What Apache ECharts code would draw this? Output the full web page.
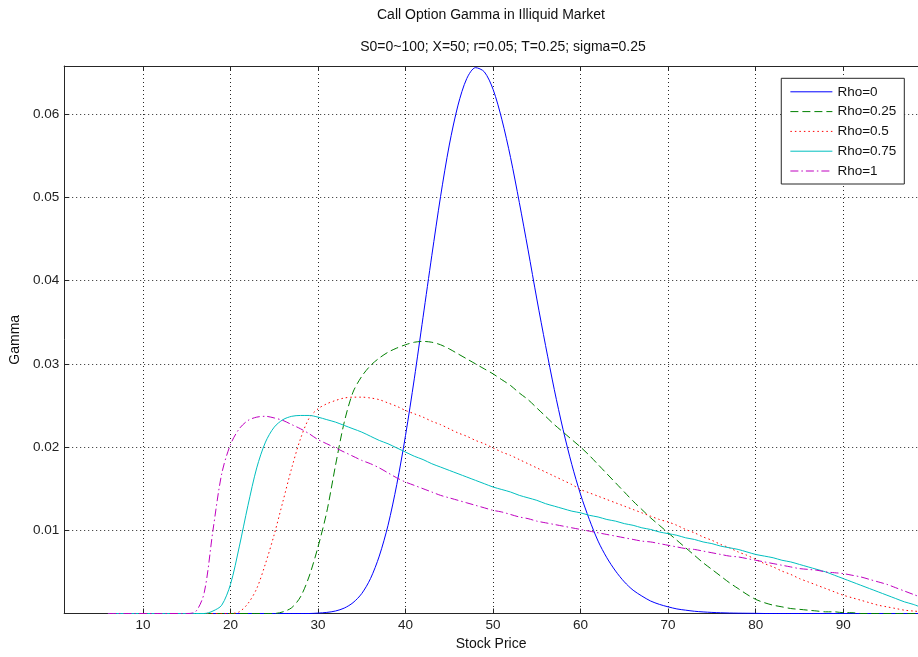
<!DOCTYPE html>
<html>
<head>
<meta charset="utf-8">
<script src="https://cdn.jsdelivr.net/npm/echarts@6/dist/echarts.min.js"></script>
<style>
html,body{margin:0;padding:0;background:#fff;}
#chart{width:918px;height:657px;}
</style>
</head>
<body>
<div id="chart"></div>
<script>
// Stock price grid (x values)
const stockPrice = [6,7,8,9,
  10,11,12,13,14,15,16,17,18,19,
  20,21,22,23,24,25,26,27,28,29,
  30,31,32,33,34,35,36,37,38,39,
  40,41,42,43,44,45,46,47,48,49,
  50,51,52,53,54,55,56,57,58,59,
  60,61,62,63,64,65,66,67,68,69,
  70,71,72,73,74,75,76,77,78,79,
  80,81,82,83,84,85,86,87,88,89,
  90,91,92,93,94,95,96,97,98,99];

const seriesNames = ['Rho=0','Rho=0.25','Rho=0.5','Rho=0.75','Rho=1'];

const gammaRho0 = [0,0,0,0,
  0,0,0,0,0,0,0,0,0,0,
  0,0,0,0,0,0,0,0,0,0,
  0.00005,0.00013,0.0003,0.00065,0.0013,0.0024,0.0042,0.0069,0.0106,0.0155,
  0.0214,0.0282,0.0356,0.0430,0.0501,0.0563,0.0611,0.0643,0.0656,0.0651,
  0.0630,0.0594,0.0548,0.0494,0.0437,0.0378,0.0322,0.0269,0.0221,0.0179,
  0.0143,0.0113,0.0087,0.0067,0.0051,0.0038,0.0028,0.0021,0.0015,0.0011,
  0.0008,0.00055,0.0004,0.00027,0.00019,0.00013,0.00009,0.00006,0.00004,0.00003,
  0.00002,0,0,0,0,0,0,0,0,0,
  0,0,0,0,0,0,0,0,0,0];

const gammaRho025 = [0,0,0,0,
  0,0,0,0,0,0,0,0,0,0,
  0,0,0,0,0,0,0.0002,0.0007,0.0020,0.0045,
  0.0080,0.0122,0.0178,0.0230,0.0266,0.0285,0.0298,0.0307,0.0314,0.0319,
  0.0323,0.0326,0.0327,0.0326,0.0323,0.0318,0.0312,0.0306,0.0300,0.0294,
  0.0288,0.0281,0.0274,0.0265,0.0257,0.0247,0.0237,0.0227,0.0218,0.0209,
  0.0200,0.0190,0.0179,0.0168,0.0157,0.0146,0.0135,0.0125,0.0115,0.0106,
  0.0097,0.0088,0.0079,0.0070,0.0061,0.0053,0.0045,0.0037,0.0030,0.0023,
  0.0017,0.0013,0.0010,0.0008,0.0006,0.0005,0.0004,0.0003,0.0002,0.0002,
  0.0001,0.0001,0,0,0,0,0,0,0,0];

const gammaRho05 = [0,0,0,0,
  0,0,0,0,0,0,0,0,0,0,
  0,0.0002,0.0012,0.0030,0.0060,0.0095,0.0135,0.0175,0.0210,0.0235,
  0.0246,0.0252,0.0256,0.0259,0.0260,0.0260,0.0259,0.0257,0.0253,0.0249,
  0.0244,0.0240,0.0236,0.0231,0.0227,0.0222,0.0217,0.0213,0.0208,0.0204,
  0.0199,0.0194,0.0190,0.0185,0.0180,0.0175,0.0170,0.0165,0.0160,0.0155,
  0.0149,0.0145,0.0141,0.0137,0.0133,0.0129,0.0125,0.0121,0.0117,0.0113,
  0.0110,0.0106,0.0101,0.0097,0.0092,0.0088,0.0083,0.0079,0.0074,0.0070,
  0.0065,0.0060,0.0056,0.0051,0.0047,0.0042,0.0038,0.0034,0.0030,0.0026,
  0.0022,0.0019,0.0016,0.0013,0.0010,0.0008,0.0006,0.0004,0.0003,0.0002];

const gammaRho075 = [0,0,0,0,
  0,0,0,0,0,0,0,0,0.0003,0.0010,
  0.0035,0.0080,0.0130,0.0175,0.0206,0.0224,0.0233,0.0237,0.0238,0.0238,
  0.0236,0.0233,0.0230,0.0226,0.0222,0.0218,0.0213,0.0208,0.0204,0.0199,
  0.0194,0.0189,0.0185,0.0180,0.0176,0.0172,0.0168,0.0164,0.0160,0.0156,
  0.0152,0.0149,0.0146,0.0142,0.0139,0.0136,0.0132,0.0129,0.0126,0.0123,
  0.0121,0.0118,0.0116,0.0113,0.0111,0.0108,0.0106,0.0103,0.0101,0.0098,
  0.0096,0.0094,0.0091,0.0089,0.0086,0.0084,0.0081,0.0079,0.0077,0.0074,
  0.0071,0.0069,0.0067,0.0064,0.0062,0.0059,0.0056,0.0053,0.0050,0.0046,
  0.0042,0.0038,0.0034,0.0030,0.0026,0.0022,0.0018,0.0014,0.0011,0.0007];

const gammaRho1 = [0,0,0,0,
  0,0,0,0,0,0,0.0002,0.0025,0.0100,0.0168,
  0.0203,0.0222,0.0232,0.0236,0.0237,0.0235,0.0232,0.0227,0.0222,0.0216,
  0.0209,0.0204,0.0199,0.0194,0.0189,0.0184,0.0180,0.0175,0.0169,0.0163,
  0.0158,0.0154,0.0150,0.0146,0.0142,0.0139,0.0136,0.0133,0.0130,0.0127,
  0.0124,0.0122,0.0119,0.0116,0.0114,0.0111,0.0109,0.0107,0.0105,0.0103,
  0.0101,0.0099,0.0097,0.0095,0.0093,0.0091,0.0089,0.0087,0.0086,0.0084,
  0.0082,0.0080,0.0078,0.0077,0.0075,0.0073,0.0071,0.0069,0.0068,0.0066,
  0.0064,0.0062,0.0060,0.0058,0.0056,0.0054,0.0053,0.0052,0.0050,0.0049,
  0.0048,0.0046,0.0044,0.0041,0.0038,0.0035,0.0031,0.0027,0.0023,0.0019];

const xTicks = [10,20,30,40,50,60,70,80,90];
const yTicks = [0.01,0.02,0.03,0.04,0.05,0.06];

const allSeries = [gammaRho0, gammaRho025, gammaRho05, gammaRho075, gammaRho1];
const colors = ['#0000ff','#008000','#ff0000','#00bfbf','#bf00bf'];
const dashes = ['solid',[8,4],[1.5,3],'solid',[8,3,1.5,3]];

const FONT = 'Liberation Sans, Arial, Helvetica, sans-serif';
const AX = '#262626';

const chart = echarts.init(document.getElementById('chart'), null, {renderer:'canvas'});

const series = allSeries.map((vals, k) => ({
  name: seriesNames[k],
  type: 'line',
  xAxisIndex: 0,
  yAxisIndex: 0,
  symbol: 'circle',
  symbolSize: 0,
  showSymbol: false,
  smooth: 0.3,
  clip: true,
  data: stockPrice.map((s, i) => [s, vals[i]]),
  lineStyle: {color: colors[k], width: 1, type: dashes[k]},
  itemStyle: {color: colors[k]},
  emphasis: {disabled: true}
}));

chart.setOption({
  animation: false,
  backgroundColor: '#fff',
  graphic: [
    {type:'text', x: 491, y: 15, style:{text:'Call Option Gamma in Illiquid Market', font:'14px ' + FONT, fill:'#111', textAlign:'center', textVerticalAlign:'middle'}},
    {type:'text', x: 503, y: 47, style:{text:'S0=0~100; X=50; r=0.05; T=0.25; sigma=0.25', font:'14px ' + FONT, fill:'#111', textAlign:'center', textVerticalAlign:'middle'}}
  ],
  grid: {left: 62, right: 0, top: 66, bottom: 43.5, containLabel: false},
  legend: {
    data: seriesNames,
    orient: 'vertical',
    right: 13.7,
    top: 78.3,
    backgroundColor: '#fff',
    borderColor: AX,
    borderWidth: 1,
    borderRadius: 0,
    padding: [6.5, 8, 6, 8.6],
    itemWidth: 42,
    itemHeight: 14,
    itemGap: 5.8,
    itemStyle: {opacity: 0},
    lineStyle: {width: 1},
    textStyle: {fontSize: 13.5, fontFamily: FONT, color: '#111'},
    selectedMode: false
  },
  xAxis: [{
    type: 'value',
    min: 1,
    max: 98.55,
    position: 'bottom',
    name: 'Stock Price',
    nameLocation: 'middle',
    nameGap: 23,
    nameTextStyle: {fontSize: 14, fontFamily: FONT, color: '#111'},
    axisLine: {show: true, onZero: false, lineStyle: {color: AX, width: 1}},
    axisTick: {show: true, inside: true, length: 5, customValues: xTicks, lineStyle: {color: AX}},
    axisLabel: {show: true, customValues: xTicks, fontSize: 13.5, fontFamily: FONT, color: '#222', margin: 5},
    splitLine: {show: true, lineStyle: {color: AX, type: [1,3], width: 1}}
  }, {
    type: 'value',
    min: 1,
    max: 98.55,
    position: 'top',
    axisLine: {show: true, onZero: false, lineStyle: {color: AX, width: 1}},
    axisTick: {show: true, inside: true, length: 5, customValues: xTicks, lineStyle: {color: AX}},
    axisLabel: {show: false},
    splitLine: {show: false}
  }],
  yAxis: [{
    type: 'value',
    min: 0,
    max: 0.0658,
    position: 'left',
    name: 'Gamma',
    nameLocation: 'middle',
    nameRotate: 90,
    nameGap: 40,
    nameTextStyle: {fontSize: 14, fontFamily: FONT, color: '#111'},
    axisLine: {show: true, onZero: false, lineStyle: {color: AX, width: 1}},
    axisTick: {show: true, inside: true, length: 5, customValues: yTicks, lineStyle: {color: AX}},
    axisLabel: {show: true, customValues: yTicks, fontSize: 13.5, fontFamily: FONT, color: '#222', margin: 5,
      formatter: v => String(Math.round(v * 100) / 100)},
    splitLine: {show: true, lineStyle: {color: AX, type: [1,3], width: 1}}
  }],
  series: series
});
</script>
</body>
</html>
